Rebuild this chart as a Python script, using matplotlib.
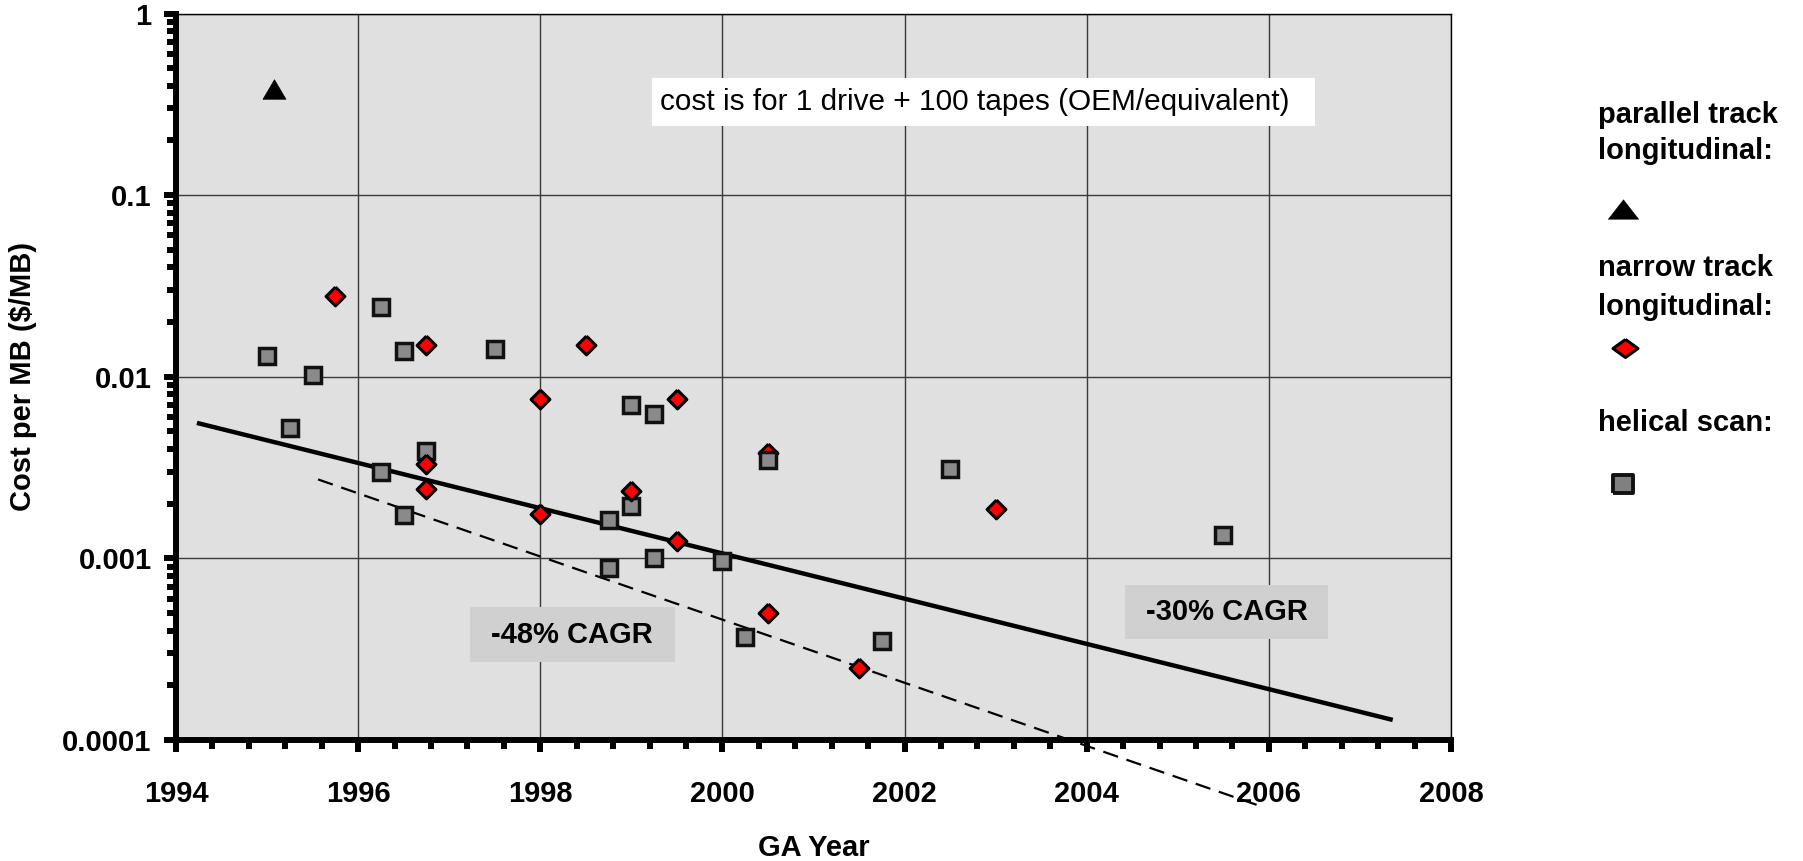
import matplotlib
matplotlib.use("Agg")
import matplotlib.pyplot as plt
from matplotlib.ticker import MultipleLocator, LogLocator, FuncFormatter, NullFormatter
from matplotlib.lines import Line2D
from matplotlib.patches import Rectangle

# ---------------- data ----------------
parallel_years = [1995.08]
parallel_cost = [0.385]

narrow_years = [1995.75, 1996.75, 1998.5, 1998.0, 1999.5, 1996.75, 1996.75,
                1999.0, 1998.0, 1999.5, 2000.5, 2001.5, 2003.0]
narrow_cost = [0.028, 0.015, 0.015, 0.0075, 0.0075, 0.0033, 0.0024,
               0.00235, 0.00175, 0.00125, 0.0005, 0.00025, 0.00188]

# narrow-track point partly hidden behind a helical-scan square
narrow_hidden_years = [2000.5]
narrow_hidden_cost = [0.0038]

helical_years = [1995.0, 1995.25, 1995.5, 1996.25, 1996.5, 1997.5, 1996.25,
                 1996.5, 1996.75, 1999.0, 1999.25, 1999.0, 1998.75, 1998.75,
                 1999.25, 2000.0, 2000.5, 2000.25, 2001.75, 2002.5, 2005.5]
helical_cost = [0.013, 0.00525, 0.0102, 0.0242, 0.0139, 0.0142, 0.0030,
                0.00174, 0.0039, 0.0070, 0.0062, 0.00195, 0.00162, 0.00088,
                0.00101, 0.00097, 0.0035, 0.00037, 0.00035, 0.0031, 0.00134]

trend30_years = [1994.23, 2007.36]
trend30_cost = [0.00557, 0.000129]

trend48_years = [1995.56, 2005.95]
trend48_cost = [0.00272, 0.0000425]

x_ticks = [1994, 1996, 1998, 2000, 2002, 2004, 2006, 2008]
y_ticks = [0.0001, 0.001, 0.01, 0.1, 1]

label_note = "cost is for 1 drive + 100 tapes (OEM/equivalent)"
label_48 = "-48% CAGR"
label_30 = "-30% CAGR"
legend_labels = [["parallel track", "longitudinal:"],
                 ["narrow track", "longitudinal:"],
                 ["helical scan:"]]

# ---------------- style ----------------
FONT = "Liberation Sans"
FS = 21
plt.rcParams["font.family"] = [FONT, "DejaVu Sans"]

W, H = 1803, 861
fig = plt.figure(figsize=(W / 100, H / 100), dpi=100)
ax_l, ax_r, ax_t, ax_b = 176, 1451, 13.5, 740
ax = fig.add_axes([ax_l / W, 1 - ax_b / H, (ax_r - ax_l) / W, (ax_b - ax_t) / H])
ax.set_facecolor("#e0e0e0")

ax.set_yscale("log")
ax.set_xlim(1994, 2008)
ax.set_ylim(1e-4, 1)

# markers
sq_face = "#8a8a8a"
diamond = [(0, 1), (1, 0), (0, -1), (-1, 0), (0, 1)]
tri_plot = [(-1, -0.85), (1, -0.85), (0, 0.85), (-1, -0.85)]

ax.plot(trend30_years, trend30_cost, color="black", lw=3.2, zorder=3,
        solid_capstyle="butt")
ax.plot(trend48_years, trend48_cost, color="black", lw=1.6, zorder=3,
        dashes=(7, 4), clip_on=False)

ax.plot(narrow_hidden_years, narrow_hidden_cost, ls="none", marker=diamond,
        ms=13.5, mfc="#ff0000", mec="black", mew=2.2, zorder=4)
ax.plot(helical_years, helical_cost, ls="none", marker="s", ms=11.2,
        mfc=sq_face, mec="#111111", mew=2.5, zorder=5)
ax.plot(narrow_years, narrow_cost, ls="none", marker=diamond, ms=13.5,
        mfc="#ff0000", mec="black", mew=2.2, zorder=6)
ax.plot(parallel_years, parallel_cost, ls="none", marker=tri_plot, ms=16.5,
        mfc="black", mec="black", mew=0.5, zorder=6)

# grid & axes
ax.grid(which="major", color="#3a3a3a", lw=1.0, zorder=1)
ax.set_axisbelow(True)
for s in ["left", "bottom"]:
    ax.spines[s].set_linewidth(4.3)
    ax.spines[s].set_color("black")
for s in ["top", "right"]:
    ax.spines[s].set_linewidth(1.0)
    ax.spines[s].set_color("black")

ax.xaxis.set_major_locator(MultipleLocator(2))
ax.xaxis.set_minor_locator(MultipleLocator(0.4))
ax.set_xticks(x_ticks)
ax.set_xticklabels([str(v) for v in x_ticks])
ax.set_yticks(y_ticks)
ax.yaxis.set_major_formatter(FuncFormatter(lambda v, p: "%g" % v))
ax.yaxis.set_minor_locator(LogLocator(base=10, subs=range(2, 10)))
ax.yaxis.set_minor_formatter(NullFormatter())

ax.tick_params(which="major", direction="out", length=8.6, width=4.3,
               top=False, right=False, labelsize=FS)
ax.tick_params(which="minor", direction="out", length=6.5, width=4.3,
               top=False, right=False)
ax.tick_params(axis="x", which="major", pad=20)
ax.tick_params(axis="y", which="major", pad=9)
for lab in ax.get_xticklabels() + ax.get_yticklabels():
    lab.set_fontweight("bold")

ax.set_xlabel("GA Year", fontsize=FS, fontweight="bold")
ax.xaxis.set_label_coords(0.5, -(848 - ax_b) / (ax_b - ax_t))
ax.xaxis.label.set_va("center")
ax.set_ylabel("Cost per MB ($/MB)", fontsize=FS, fontweight="bold")
ax.yaxis.set_label_coords(-(ax_l - 23) / (ax_r - ax_l), 0.5)
ax.yaxis.label.set_va("center")

# annotation boxes (axes-fraction layout)
ax.add_patch(Rectangle((0.3733, 0.8451), 0.52, 0.0661, transform=ax.transAxes,
                       facecolor="white", edgecolor="none", zorder=7))
ax.text(0.3796, 0.8782, label_note, transform=ax.transAxes, fontsize=21.4,
        ha="left", va="center", zorder=8)

ax.add_patch(Rectangle((0.2303, 0.1074), 0.1607, 0.0757, transform=ax.transAxes,
                       facecolor="#d0d0d0", edgecolor="none", zorder=7))
ax.text(0.3106, 0.1452, label_48, transform=ax.transAxes, fontsize=FS,
        fontweight="bold", ha="center", va="center", zorder=8)

ax.add_patch(Rectangle((0.7443, 0.139), 0.1592, 0.0743, transform=ax.transAxes,
                       facecolor="#d0d0d0", edgecolor="none", zorder=7))
ax.text(0.8239, 0.1762, label_30, transform=ax.transAxes, fontsize=FS,
        fontweight="bold", ha="center", va="center", zorder=8)

# legend (figure layout)
lx = 1598 / W
text_rows = [[115, 151], [268, 307], [423]]
for labels, rows in zip(legend_labels, text_rows):
    for lab, yy in zip(labels, rows):
        fig.text(lx, 1 - yy / H, lab, fontsize=FS, fontweight="bold",
                 ha="left", va="center")

leg_tri = [(-1, -0.64), (1, -0.64), (0, 0.64), (-1, -0.64)]
leg_dia = [(0, 0.72), (1, 0), (0, -0.72), (-1, 0), (0, 0.72)]
leg_sq = [(-1, -0.82), (1, -0.82), (1, 0.82), (-1, 0.82), (-1, -0.82)]
fig.add_artist(Line2D([1623 / W], [1 - 209 / H], transform=fig.transFigure,
                      ls="none", marker=leg_tri, ms=22, mfc="black", mec="black",
                      mew=0.3))
fig.add_artist(Line2D([1625 / W], [1 - 348 / H], transform=fig.transFigure,
                      ls="none", marker=leg_dia, ms=18, mfc="#ff0000",
                      mec="black", mew=2.2))
fig.add_artist(Line2D([1623 / W], [1 - 484 / H], transform=fig.transFigure,
                      ls="none", marker=leg_sq, ms=15, mfc="#808080",
                      mec="#111111", mew=2.8))

fig.savefig("out.png", dpi=100)
